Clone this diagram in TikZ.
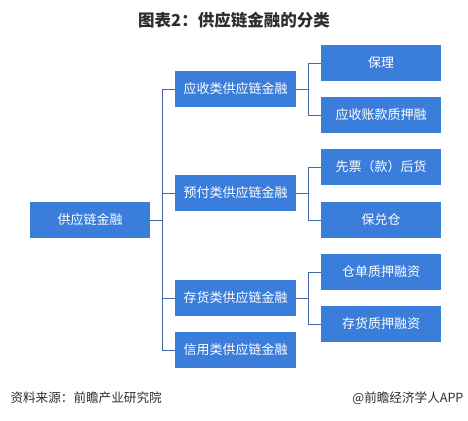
\documentclass[tikz,border=0pt]{standalone}
\usepackage{fontspec}
\setmainfont{Noto Sans CJK SC}
\definecolor{boxblue}{RGB}{59,125,218}
\definecolor{linkblue}{RGB}{70,104,165}
\definecolor{ink}{RGB}{45,45,45}

\begin{document}
\begin{tikzpicture}[x=1pt, y=-1pt,
    B/.style={rectangle, fill=boxblue, text=white, minimum height=36pt,
              inner sep=0pt, font=\fontsize{13}{15}\selectfont},
    root/.style={B, minimum width=120pt},
    mid/.style={B, minimum width=121pt},
    leaf/.style={B, minimum width=120pt},
    link/.style={draw=linkblue, line width=0.9pt},
    tag/.style={font=\fontsize{12.6}{14}\selectfont, color=ink}]
  % fixed page: same size as the 468x420 reference
  \useasboundingbox (0,0) rectangle (468,420);
  \node[font=\bfseries\fontsize{16.5}{18}\selectfont, color=ink] (title) at (234,20)
    {图表2：供应链金融的分类};
  % --- the three levels of the tree ----------------------------------------
  \node[root] (r) at (90,220) {供应链金融};
  \foreach \n/\y/\t in {c1/89/应收类供应链金融, c2/193/预付类供应链金融,
                        c3/298/存货类供应链金融, c4/350/信用类供应链金融}
    \node[mid] (\n) at (235.5,\y) {\t};
  \foreach \n/\y/\t in {l1/63/保理, l2/115/应收账款质押融,
                        l3/167/先票（款）后货, l4/220/保兑仓,
                        l5/272/仓单质押融资, l6/324/存货质押融资}
    \node[leaf] (\n) at (381,\y) {\t};
  % --- elbow links ----------------------------------------------------------
  \foreach \c in {c1,c2,c3,c4}
    \draw[link] (r.east) -- ++(12.5,0) |- (\c.west);
  \foreach \c/\l in {c1/l1,c1/l2,c2/l3,c2/l4,c3/l5,c3/l6}
    \draw[link] (\c.east) -- ++(12,0) |- (\l.west);
  % --- footer ---------------------------------------------------------------
  \node[tag, anchor=west] (src) at (7,398) {资料来源：前瞻产业研究院};
  \node[tag, anchor=east] (app) at (467,398) {@前瞻经济学人APP};
\end{tikzpicture}
\end{document}
